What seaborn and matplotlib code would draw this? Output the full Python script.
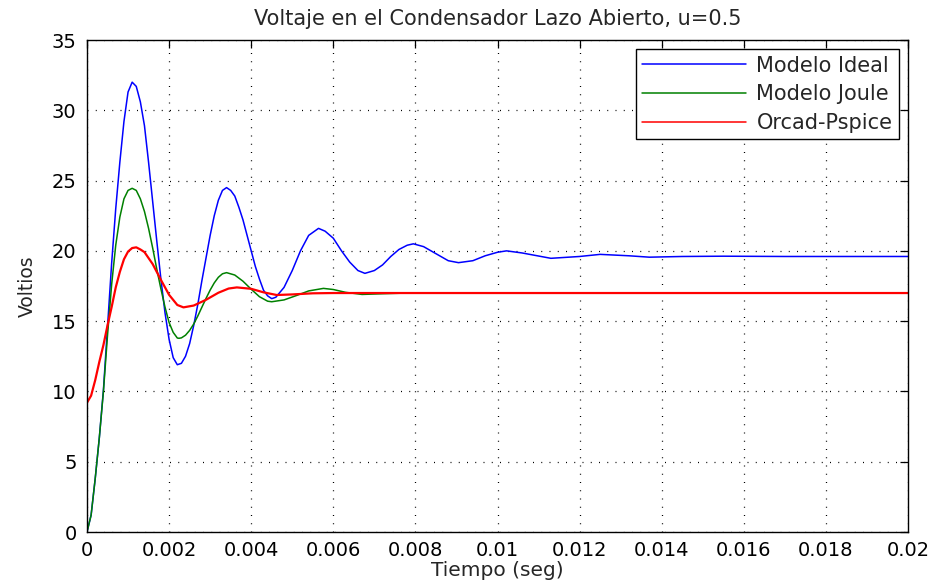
import numpy as np
import pandas as pd
import matplotlib
matplotlib.use("Agg")
import matplotlib.pyplot as plt
import seaborn as sns

# ---- data (time in ms, voltage in V) ----
t_ideal_ms = [0, 0.1, 0.2, 0.3, 0.4, 0.5, 0.6, 0.7, 0.8, 0.9,
              1.0, 1.1, 1.2, 1.3, 1.4, 1.5, 1.6, 1.7, 1.8, 1.9,
              2.0, 2.1, 2.2, 2.3, 2.4, 2.5, 2.6, 2.7, 2.8, 2.9,
              3.0, 3.1, 3.2, 3.3, 3.4,
              3.5, 3.6, 3.7, 3.8, 3.9, 4.0, 4.1, 4.2, 4.3, 4.4, 4.5, 4.6,
              4.8, 5.0, 5.2, 5.4, 5.64,
              5.8, 6.0, 6.2, 6.4, 6.6, 6.77,
              7.0, 7.2, 7.4, 7.6, 7.8, 7.95,
              8.2, 8.5, 8.8, 9.05,
              9.4, 9.7, 10.0, 10.22,
              10.6, 11.3, 12.0, 12.5, 13.2, 13.7, 14.5, 15.5, 17.0, 20.0]
v_ideal = [0, 1.2, 3.8, 6.7, 10.1, 14.6, 19.1, 23.0, 26.3, 29.2,
           31.3, 32.0, 31.7, 30.6, 28.9, 26.3, 23.5, 20.7, 18.0, 15.6,
           13.7, 12.4, 11.9, 12.0, 12.5, 13.4, 14.7, 16.2, 17.9, 19.5,
           21.1, 22.5, 23.6, 24.3, 24.5,
           24.3, 23.9, 23.1, 22.2, 21.1, 20.0, 18.9, 18.0, 17.2, 16.8, 16.6, 16.7,
           17.4, 18.6, 20.0, 21.1, 21.6,
           21.4, 20.9, 20.0, 19.2, 18.6, 18.4,
           18.6, 19.0, 19.6, 20.1, 20.4, 20.5,
           20.3, 19.8, 19.3, 19.16,
           19.3, 19.65, 19.9, 20.0,
           19.85, 19.47, 19.6, 19.75, 19.65, 19.55, 19.6, 19.62, 19.6, 19.6]

t_joule_ms = [0, 0.1, 0.2, 0.3, 0.4, 0.5, 0.6, 0.7, 0.8, 0.9, 1.0, 1.1,
              1.2, 1.3, 1.4, 1.5, 1.6, 1.7, 1.8, 1.9, 2.0, 2.1, 2.2,
              2.24,
              2.3, 2.4, 2.5, 2.6, 2.7, 2.8, 2.9, 3.0, 3.1, 3.2, 3.3, 3.4,
              3.6, 3.8, 4.0, 4.2, 4.4, 4.5,
              4.8, 5.1, 5.4, 5.76,
              6.0, 6.3, 6.7, 7.2, 7.8, 20.0]
v_joule = [0, 1.2, 3.8, 6.7, 10.0, 14.0, 17.6, 20.4, 22.4, 23.7, 24.3, 24.45,
           24.3, 23.7, 22.8, 21.6, 20.2, 18.7, 17.3, 16.0, 14.9, 14.2, 13.8,
           13.78,
           13.81, 14.0, 14.34, 14.8, 15.37, 16.0, 16.62, 17.21, 17.72, 18.12, 18.37, 18.45,
           18.28, 17.84, 17.27, 16.74, 16.42, 16.38,
           16.51, 16.82, 17.15, 17.33,
           17.25, 17.05, 16.9, 16.95, 17.0, 17.0]

t_pspice_ms = [0, 0.1, 0.2, 0.3, 0.4, 0.5, 0.6, 0.7, 0.8, 0.9, 1.0, 1.1, 1.2, 1.3,
               1.4, 1.6, 1.8, 2.0, 2.2, 2.35,
               2.6, 2.9, 3.2, 3.45, 3.65,
               4.0, 4.3, 4.62, 5.0, 5.5, 6.0, 20.0]
v_pspice = [9.2, 9.7, 10.8, 12.1, 13.3, 14.7, 16.0, 17.4, 18.5, 19.4, 19.95, 20.2, 20.25, 20.1,
            19.91, 19.06, 17.94, 16.87, 16.15, 15.98,
            16.11, 16.52, 17.02, 17.32, 17.4,
            17.3, 17.05, 16.86, 16.9, 16.98, 17.0, 17.0]

series_labels = ["Modelo Ideal", "Modelo Joule", "Orcad-Pspice"]
x_ticks = [0, 0.002, 0.004, 0.006, 0.008, 0.01, 0.012, 0.014, 0.016, 0.018, 0.02]
x_tick_labels = ["0", "0.002", "0.004", "0.006", "0.008", "0.01", "0.012",
                 "0.014", "0.016", "0.018", "0.02"]
y_ticks = [0, 5, 10, 15, 20, 25, 30, 35]

title = "Voltaje en el Condensador Lazo Abierto, u=0.5"
xlabel = "Tiempo (seg)"
ylabel = "Voltios"

# ---- style ----
sns.set_style("white")
plt.rcParams["font.family"] = ["DejaVu Sans"]

fig = plt.figure(figsize=(9.33, 5.86), dpi=100)
ax = fig.add_axes([87/933, 1-532/586, (908-87)/933, (532-40)/586])

frames = []
for lab, tt, vv in [(series_labels[0], t_ideal_ms, v_ideal),
                    (series_labels[1], t_joule_ms, v_joule),
                    (series_labels[2], t_pspice_ms, v_pspice)]:
    frames.append(pd.DataFrame({"t": np.array(tt) * 1e-3, "v": vv, "serie": lab}))
df = pd.concat(frames, ignore_index=True)

colors = {"Modelo Ideal": "#0000ff", "Modelo Joule": "#008000", "Orcad-Pspice": "#ff0000"}
widths = {"Modelo Ideal": 1.1, "Modelo Joule": 1.1, "Orcad-Pspice": 1.6}
for lab in series_labels:
    sub = df[df["serie"] == lab]
    sns.lineplot(data=sub, x="t", y="v", color=colors[lab], linewidth=widths[lab],
                 label=lab, ax=ax, estimator=None, sort=False)

ax.set_xlim(0, 0.02)
ax.set_ylim(0, 35)
ax.set_xticks(x_ticks)
ax.set_xticklabels(x_tick_labels)
ax.set_yticks(y_ticks)
ax.tick_params(direction="in", length=6, width=0.9, top=True, right=True,
               labelsize=14, colors="black")
ax.tick_params(axis="x", pad=6.5)
ax.tick_params(axis="y", pad=7.5)
for s in ax.spines.values():
    s.set_color("black")
    s.set_linewidth(1.0)
ax.grid(True, color="black", linestyle=(0, (0.8, 5.8)), linewidth=0.9)
ax.set_axisbelow(True)

ax.set_title(title, fontsize=15, pad=11)
ax.set_xlabel(xlabel, fontsize=14.5, labelpad=1)
ax.set_ylabel(ylabel, fontsize=13.5, labelpad=10.5)

leg = ax.legend(loc="upper right", fontsize=15, frameon=True, fancybox=False,
                edgecolor="black", framealpha=1, handlelength=5.0,
                handletextpad=0.48, labelspacing=0.42, borderaxespad=0.45,
                borderpad=0.3)
leg.get_frame().set_linewidth(1.0)
for line in leg.get_lines():
    line.set_linewidth(1.1)

fig.savefig("out.png", dpi=100)
